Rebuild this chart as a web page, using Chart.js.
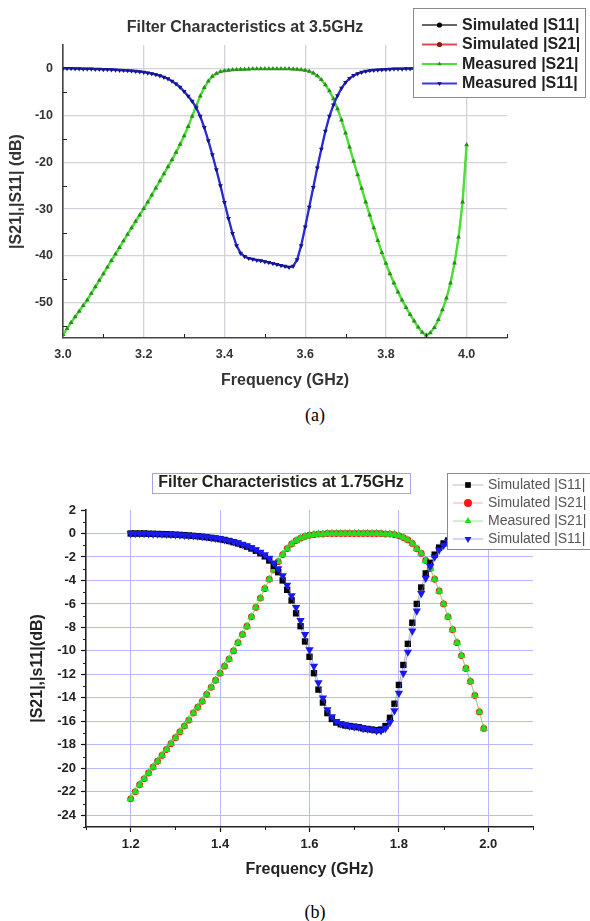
<!DOCTYPE html>
<html>
<head>
<meta charset="utf-8">
<script src="https://cdn.jsdelivr.net/npm/chart.js@4.4.1/dist/chart.umd.min.js"></script>
<style>
  html, body { margin: 0; padding: 0; background: #fff; }
  body { width: 590px; height: 921px; position: relative; overflow: hidden; }
  canvas { position: absolute; left: 0; }
  #topChart { top: 0; }
  #botChart { top: 460px; }
  .cap { position: absolute; width: 40px; text-align: center; font-family: "Liberation Serif", "Times New Roman", serif; font-size: 18px; color: #000; line-height: 20px; }
</style>
</head>
<body>
<canvas id="topChart" width="590" height="400"></canvas>
<canvas id="botChart" width="590" height="440"></canvas>
<div class="cap" style="left:295px; top:405px;">(a)</div>
<div class="cap" style="left:295px; top:902px;">(b)</div>
<script>
'use strict';

// ---- (a) filter at 3.5 GHz ----
const freqTop = [
  3.00, 3.01, 3.02, 3.03, 3.04, 3.05, 3.06, 3.07, 3.08, 3.09,
  3.10, 3.11, 3.12, 3.13, 3.14, 3.15, 3.16, 3.17, 3.18, 3.19,
  3.20, 3.21, 3.22, 3.23, 3.24, 3.25, 3.26, 3.27, 3.28, 3.29,
  3.30, 3.31, 3.32, 3.33, 3.34, 3.35, 3.36, 3.37, 3.38, 3.39,
  3.40, 3.41, 3.42, 3.43, 3.44, 3.45, 3.46, 3.47, 3.48, 3.49,
  3.50, 3.51, 3.52, 3.53, 3.54, 3.55, 3.56, 3.57, 3.58, 3.59,
  3.60, 3.61, 3.62, 3.63, 3.64, 3.65, 3.66, 3.67, 3.68, 3.69,
  3.70, 3.71, 3.72, 3.73, 3.74, 3.75, 3.76, 3.77, 3.78, 3.79,
  3.80, 3.81, 3.82, 3.83, 3.84, 3.85, 3.86, 3.87, 3.88, 3.89,
  3.90, 3.91, 3.92, 3.93, 3.94, 3.95, 3.96, 3.97, 3.98, 3.99, 4.00
];
const s21Top = [
  -56.8, -55.5, -54.2, -53.0, -51.8, -50.6, -49.4, -48.0, -46.6, -45.2,
  -43.8, -42.4, -41.0, -39.6, -38.2, -36.8, -35.4, -34.0, -32.6, -31.3,
  -29.9, -28.5, -27.0, -25.5, -24.0, -22.5, -21.0, -19.5, -17.9, -16.2,
  -14.4, -12.4, -10.2, -8.0, -5.9, -4.1, -2.7, -1.7, -1.1, -0.7,
  -0.5, -0.4, -0.3, -0.25, -0.2, -0.2, -0.15, -0.1, -0.1, -0.1,
  -0.1, -0.1, -0.1, -0.1, -0.1, -0.1, -0.1, -0.15, -0.2, -0.3,
  -0.4, -0.6, -1.0, -1.6, -2.4, -3.5, -4.8, -6.5, -8.6, -11.0,
  -13.8, -16.8, -19.8, -22.7, -25.6, -28.5, -31.3, -34.0, -36.7, -39.3,
  -41.6, -43.8, -45.8, -47.7, -49.4, -51.0, -52.5, -53.9, -55.2, -56.3,
  -56.9, -56.4, -55.3, -53.6, -51.5, -49.0, -45.8, -41.5, -36.0, -28.5, -16.3
];
const s11Top = [
  0, 0, 0, -0.05, -0.05, -0.1, -0.1, -0.1, -0.15, -0.15,
  -0.2, -0.2, -0.25, -0.3, -0.35, -0.4, -0.45, -0.5, -0.6, -0.7,
  -0.8, -0.95, -1.1, -1.3, -1.55, -1.85, -2.2, -2.7, -3.3, -4.0,
  -4.9, -5.9, -7.0, -8.4, -10.2, -12.6, -15.4, -18.4, -21.6, -25.0,
  -28.6, -32.0, -35.2, -37.8, -39.4, -40.1, -40.5, -40.7, -40.9, -41.0,
  -41.2, -41.4, -41.6, -41.8, -42.0, -42.2, -42.4, -42.2, -40.8, -37.8,
  -33.8, -29.6, -25.4, -21.2, -17.2, -13.4, -10.2, -7.8, -5.8, -4.2,
  -3.0, -2.1, -1.5, -1.1, -0.8, -0.6, -0.45, -0.35, -0.3, -0.25,
  -0.2, -0.15, -0.1, -0.1, -0.1, -0.05, -0.05, -0.05, 0, 0,
  0, 0, 0, 0, 0, 0, 0, 0, 0, 0, 0
];
const xTicksTop = [3.0, 3.2, 3.4, 3.6, 3.8, 4.0];
const yTicksTop = [0, -10, -20, -30, -40, -50];
const xMinorTop = [3.1, 3.3, 3.5, 3.7, 3.9, 4.1];
const yMinorTop = [-55, -45, -35, -25, -15, -5];

// ---- (b) filter at 1.75 GHz ----
const freqBot = [
  1.20, 1.21, 1.22, 1.23, 1.24, 1.25, 1.26, 1.27, 1.28, 1.29,
  1.30, 1.31, 1.32, 1.33, 1.34, 1.35, 1.36, 1.37, 1.38, 1.39,
  1.40, 1.41, 1.42, 1.43, 1.44, 1.45, 1.46, 1.47, 1.48, 1.49,
  1.50, 1.51, 1.52, 1.53, 1.54, 1.55, 1.56, 1.57, 1.58, 1.59,
  1.60, 1.61, 1.62, 1.63, 1.64, 1.65, 1.66, 1.67, 1.68, 1.69,
  1.70, 1.71, 1.72, 1.73, 1.74, 1.75, 1.76, 1.77, 1.78, 1.79,
  1.80, 1.81, 1.82, 1.83, 1.84, 1.85, 1.86, 1.87, 1.88, 1.89,
  1.90, 1.91, 1.92, 1.93, 1.94, 1.95, 1.96, 1.97, 1.98, 1.99
];
const s21Bot = [
  -22.6, -22.0, -21.4, -20.9, -20.4, -19.9, -19.4, -18.9, -18.4, -17.9,
  -17.4, -16.9, -16.4, -15.9, -15.3, -14.8, -14.3, -13.7, -13.1, -12.5,
  -11.9, -11.3, -10.7, -10.0, -9.3, -8.6, -7.9, -7.1, -6.3, -5.5,
  -4.7, -3.9, -3.1, -2.4, -1.8, -1.3, -0.9, -0.6, -0.4, -0.25,
  -0.15, -0.1, -0.05, -0.05, 0, 0, 0, 0, 0, 0,
  0, 0, 0, 0, 0, 0, 0, -0.05, -0.05, -0.1,
  -0.2, -0.35, -0.55, -0.85, -1.3, -1.7, -2.3, -3.0, -3.9, -4.9,
  -6.0, -7.1, -8.2, -9.3, -10.4, -11.5, -12.6, -13.8, -15.2, -16.6
];
const s11Bot = [
  0, 0, 0, 0, -0.02, -0.03, -0.04, -0.05, -0.06, -0.08,
  -0.1, -0.12, -0.14, -0.16, -0.19, -0.22, -0.26, -0.3, -0.35, -0.4,
  -0.45, -0.52, -0.6, -0.7, -0.8, -0.92, -1.05, -1.2, -1.38, -1.58,
  -1.8, -2.1, -2.5, -3.0, -3.6, -4.4, -5.3, -6.3, -7.4, -8.6,
  -9.9, -11.3, -12.7, -14.0, -15.0, -15.6, -16.0, -16.2, -16.3, -16.4,
  -16.45, -16.5, -16.6, -16.65, -16.7, -16.8, -16.8, -16.6, -16.1, -15.1,
  -13.6, -11.9, -10.1, -8.3, -6.6, -5.1, -3.8, -2.8, -2.0, -1.4,
  -1.0, -0.7, -0.5, -0.35, -0.25, -0.2, -0.15, -0.1, -0.08, -0.05
];
const simS11Bot = [
  0, 0, 0, 0, -0.02, -0.03, -0.04, -0.05, -0.06, -0.08,
  -0.1, -0.12, -0.14, -0.17, -0.2, -0.23, -0.27, -0.32, -0.37, -0.42,
  -0.48, -0.55, -0.64, -0.74, -0.85, -0.98, -1.12, -1.28, -1.47, -1.68,
  -1.95, -2.3, -2.75, -3.3, -4.0, -4.8, -5.7, -6.8, -7.9, -9.2,
  -10.5, -11.9, -13.3, -14.4, -15.3, -15.8, -16.1, -16.25, -16.35, -16.4,
  -16.45, -16.5, -16.6, -16.65, -16.7, -16.75, -16.7, -16.4, -15.7, -14.5,
  -12.9, -11.2, -9.4, -7.6, -6.0, -4.6, -3.4, -2.5, -1.8, -1.2,
  -0.85, -0.6, -0.45, -0.3, -0.22, -0.17, -0.12, -0.09, -0.07, -0.04
];
const xTicksBot = [1.2, 1.4, 1.6, 1.8, 2.0];
const yTicksBot = [2, 0, -2, -4, -6, -8, -10, -12, -14, -16, -18, -20, -22, -24];
const xMinorBot = [1.1, 1.3, 1.5, 1.7, 1.9, 2.1];
const yMinorBot = [1, -1, -3, -5, -7, -9, -11, -13, -15, -17, -19, -21, -23, -25];

const FONT = '"Liberation Sans", Arial, sans-serif';
const pts = (xs, ys) => xs.map((x, i) => ({ x: x, y: ys[i] }));

function marker(ctx, style, rot, x, y, r, fill) {
  ctx.fillStyle = fill;
  ctx.beginPath();
  if (style === 'circle') {
    ctx.arc(x, y, r, 0, Math.PI * 2);
  } else if (style === 'rect') {
    const s = r / Math.SQRT2;
    ctx.rect(x - s, y - s, 2 * s, 2 * s);
  } else {
    let a = (rot || 0) * Math.PI / 180;
    for (let k = 0; k < 3; k++) {
      const px = x + Math.sin(a) * r, py = y - Math.cos(a) * r;
      if (k === 0) ctx.moveTo(px, py); else ctx.lineTo(px, py);
      a += 2 * Math.PI / 3;
    }
    ctx.closePath();
  }
  ctx.fill();
}

// title box, legend box and minor ticks
const extras = {
  id: 'extras',
  afterDraw(chart, args, o) {
    const ctx = chart.ctx;
    const xs = chart.scales.x, ys = chart.scales.y;
    ctx.save();

    ctx.strokeStyle = '#222';
    ctx.lineWidth = 1;
    const d = o.minorIn ? -1 : 1;
    o.xMinor.forEach(v => {
      const px = Math.round(xs.getPixelForValue(v)) + 0.5;
      ctx.beginPath();
      ctx.moveTo(px, ys.bottom);
      ctx.lineTo(px, ys.bottom + d * o.minorLen);
      ctx.stroke();
    });
    o.yMinor.forEach(v => {
      const py = Math.round(ys.getPixelForValue(v)) + 0.5;
      ctx.beginPath();
      ctx.moveTo(xs.left, py);
      ctx.lineTo(xs.left - d * o.minorLen, py);
      ctx.stroke();
    });

    const t = o.title;
    if (t.box) {
      ctx.fillStyle = '#fff';
      ctx.fillRect(t.box[0], t.box[1], t.box[2], t.box[3]);
      ctx.strokeStyle = t.boxColor;
      ctx.strokeRect(t.box[0] + 0.5, t.box[1] + 0.5, t.box[2], t.box[3]);
    }
    ctx.fillStyle = t.color;
    ctx.font = t.font;
    ctx.textAlign = 'center';
    ctx.textBaseline = 'middle';
    ctx.fillText(t.text, t.x, t.y);

    const L = o.legend;
    ctx.fillStyle = '#fff';
    ctx.fillRect(L.box[0], L.box[1], L.box[2], L.box[3]);
    ctx.strokeStyle = L.boxColor;
    ctx.lineWidth = 1;
    ctx.strokeRect(L.box[0] + 0.5, L.box[1] + 0.5, L.box[2], L.box[3]);
    chart.data.datasets.forEach((ds, i) => {
      const y = L.rows[i];
      ctx.strokeStyle = ds.legendLine;
      ctx.lineWidth = L.lineWidth;
      ctx.beginPath();
      ctx.moveTo(L.x0, y);
      ctx.lineTo(L.x1, y);
      ctx.stroke();
      marker(ctx, ds.pointStyle, ds.rotation, (L.x0 + L.x1) / 2, y, L.radius, ds.legendDot || ds.pointBackgroundColor);
      ctx.fillStyle = L.color;
      ctx.font = L.font;
      ctx.textAlign = 'left';
      ctx.textBaseline = 'middle';
      ctx.fillText(ds.label, L.textX, y + 0.5);
    });
    ctx.restore();
  }
};

function axis(o) {
  return {
    type: 'linear',
    min: o.min,
    max: o.max,
    afterBuildTicks: s => { s.ticks = o.ticks.map(v => ({ value: v })); },
    afterFit: s => { if (o.width) s.width = o.width; if (o.height) s.height = o.height; },
    grid: {
      color: o.gridColor,
      lineWidth: o.gridWidth,
      drawTicks: o.tickLen > 0,
      tickLength: o.tickLen,
      tickColor: '#111',
      tickWidth: 1.2
    },
    border: { display: true, color: o.axisColor, width: 1.6 },
    ticks: {
      padding: o.pad,
      color: o.labelColor,
      autoSkip: false,
      maxRotation: 0,
      font: { family: FONT, size: o.labelSize, weight: 'bold' },
      callback: o.fmt
    },
    title: {
      display: true,
      text: o.title,
      color: o.labelColor,
      font: { family: FONT, size: 16, weight: 'bold' },
      padding: o.titlePad
    }
  };
}

new Chart(document.getElementById('topChart'), {
  type: 'line',
  data: {
    datasets: [{
      label: 'Simulated |S11|', data: pts(freqTop, s11Top), order: 2,
      borderColor: '#333', borderWidth: 1.2, pointStyle: 'circle', pointRadius: 1.2,
      pointBackgroundColor: '#000', pointBorderWidth: 0, legendLine: '#666'
    }, {
      label: 'Simulated |S21|', data: pts(freqTop, s21Top), order: 3,
      borderColor: '#e03030', borderWidth: 1.2, pointStyle: 'circle', pointRadius: 1.2,
      pointBackgroundColor: '#8a1a1a', pointBorderWidth: 0, legendLine: '#e04848'
    }, {
      label: 'Measured |S21|', data: pts(freqTop, s21Top), order: 1,
      borderColor: '#48e034', borderWidth: 2.4, pointStyle: 'triangle', pointRadius: 2.8,
      pointBackgroundColor: '#2c8c20', pointBorderWidth: 0, legendLine: '#4ade36', legendDot: '#2f8f22'
    }, {
      label: 'Measured |S11|', data: pts(freqTop, s11Top), order: 0,
      borderColor: '#2a2ad6', borderWidth: 2.3, pointStyle: 'triangle', rotation: 180, pointRadius: 2.8,
      pointBackgroundColor: '#15158f', pointBorderWidth: 0, legendLine: '#3a3ad0', legendDot: '#10106e'
    }]
  },
  options: {
    responsive: false,
    animation: false,
    layout: { padding: { left: 0, top: 45, right: 83, bottom: 10 } },
    plugins: {
      legend: { display: false },
      tooltip: { enabled: false },
      extras: {
        minorIn: true, minorLen: 4, xMinor: xMinorTop, yMinor: yMinorTop,
        title: { text: 'Filter Characteristics at 3.5GHz', x: 245, y: 28, color: '#333', font: 'bold 16px ' + FONT },
        legend: {
          box: [413, 8, 172, 89], boxColor: '#8a8a8a', rows: [25, 44.5, 64, 83.5],
          x0: 422, x1: 457, textX: 462, radius: 2.6, lineWidth: 2,
          color: '#222', font: 'bold 16px ' + FONT
        }
      }
    },
    scales: {
      x: axis({
        min: 3.0, max: 4.1, ticks: xTicksTop, height: 52, gridColor: '#d2d2dc', gridWidth: 1.3,
        tickLen: 0, axisColor: '#444', pad: 9, labelColor: '#333', labelSize: 12.5,
        fmt: v => v.toFixed(1), title: 'Frequency (GHz)', titlePad: { top: 0, bottom: 0 }
      }),
      y: axis({
        min: -57.5, max: 5, ticks: yTicksTop, width: 63, gridColor: '#d2d2dc', gridWidth: 1.3,
        tickLen: 0, axisColor: '#444', pad: 10, labelColor: '#333', labelSize: 12.5,
        fmt: v => String(v), title: '|S21|,|S11| (dB)', titlePad: { top: 7.4, bottom: 0 }
      })
    }
  },
  plugins: [extras]
});

new Chart(document.getElementById('botChart'), {
  type: 'line',
  data: {
    datasets: [{
      label: 'Simulated |S11|', data: pts(freqBot, simS11Bot), order: 1,
      borderColor: 'rgba(120,120,120,0.6)', borderWidth: 1, pointStyle: 'rect', pointRadius: 4.5,
      pointBackgroundColor: '#000', pointBorderWidth: 0, legendLine: '#bbb'
    }, {
      label: 'Simulated |S21|', data: pts(freqBot, s21Bot), order: 3,
      borderColor: 'rgba(255,120,120,0.6)', borderWidth: 1, pointStyle: 'circle', pointRadius: 3.4,
      pointBackgroundColor: '#ff1414', pointBorderWidth: 0, legendLine: '#ffaaaa'
    }, {
      label: 'Measured |S21|', data: pts(freqBot, s21Bot), order: 2,
      borderColor: 'rgba(110,220,110,0.6)', borderWidth: 1, pointStyle: 'triangle', pointRadius: 4.8,
      pointBackgroundColor: '#22dd22', pointBorderWidth: 0, legendLine: '#9be89b'
    }, {
      label: 'Simulated |S11|', data: pts(freqBot, s11Bot), order: 0,
      borderColor: 'rgba(110,110,255,0.6)', borderWidth: 1, pointStyle: 'triangle', rotation: 180, pointRadius: 4.8,
      pointBackgroundColor: '#1818f0', pointBorderWidth: 0, legendLine: '#a8a8ff'
    }]
  },
  options: {
    responsive: false,
    animation: false,
    layout: { padding: { left: 0, top: 50, right: 57, bottom: 10 } },
    plugins: {
      legend: { display: false },
      tooltip: { enabled: false },
      extras: {
        minorIn: false, minorLen: 3, xMinor: xMinorBot, yMinor: yMinorBot,
        title: {
          text: 'Filter Characteristics at 1.75GHz', x: 281, y: 23, color: '#222', font: 'bold 16px ' + FONT,
          box: [152, 13, 258, 20], boxColor: '#a4a4e6'
        },
        legend: {
          box: [447, 13, 160, 76], boxColor: '#8a8a8a', rows: [25, 43, 61, 79],
          x0: 453, x1: 483, textX: 488, radius: 4, lineWidth: 1,
          color: '#555', font: '14px ' + FONT
        }
      }
    },
    scales: {
      x: axis({
        min: 1.1, max: 2.1, ticks: xTicksBot, height: 63, gridColor: '#b8b8ff', gridWidth: 1,
        tickLen: 5, axisColor: '#222', pad: 5, labelColor: '#222', labelSize: 13,
        fmt: v => v.toFixed(1), title: 'Frequency (GHz)', titlePad: { top: 0, bottom: 10.4 }
      }),
      y: axis({
        min: -25, max: 2, ticks: yTicksBot, width: 86,
        gridColor: c => (c.tick && c.tick.value === 2 ? 'rgba(0,0,0,0)' : '#b8b8ff'), gridWidth: 1,
        tickLen: 5, axisColor: '#222', pad: 5, labelColor: '#222', labelSize: 13,
        fmt: v => String(v), title: '|S21|,|s11|(dB)', titlePad: { top: 28.4, bottom: 0 }
      })
    }
  },
  plugins: [extras]
});
</script>
</body>
</html>
